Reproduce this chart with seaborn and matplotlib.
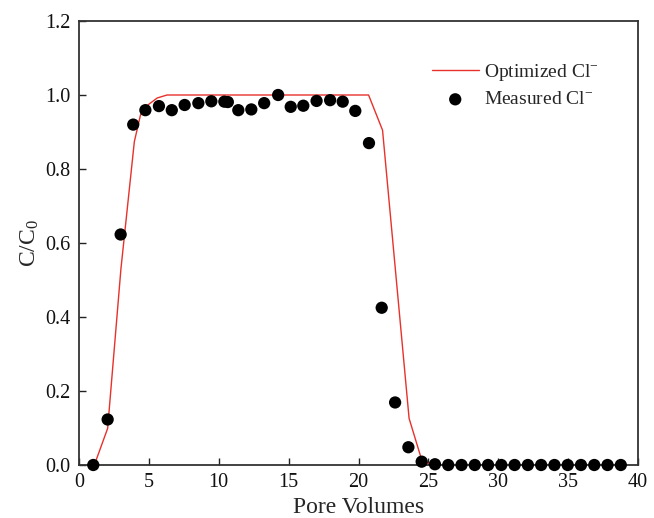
import matplotlib
matplotlib.use("Agg")
import matplotlib.pyplot as plt
import seaborn as sns
import pandas as pd

# Measured chloride breakthrough (relative concentration vs pore volumes)
measured_pv = [1.02, 2.05, 2.98, 3.88, 4.75, 5.72, 6.64, 7.56, 8.54, 9.47,
               10.40, 10.65, 11.40, 12.33, 13.25, 14.25, 15.15, 16.05, 17.00, 17.97,
               18.87, 19.77, 20.75, 21.66, 22.62, 23.57, 24.52, 25.47, 26.42, 27.37,
               28.32, 29.27, 30.22, 31.17, 32.12, 33.07, 34.02, 34.97, 35.92, 36.87,
               37.82, 38.77]
measured_c = [0.000, 0.123, 0.623, 0.920, 0.959, 0.970, 0.959, 0.973, 0.978, 0.983,
              0.982, 0.981, 0.959, 0.961, 0.978, 1.000, 0.968, 0.971, 0.984, 0.986,
              0.982, 0.957, 0.870, 0.425, 0.169, 0.048, 0.009, 0.002, 0.000, 0.000,
              0.000, 0.000, 0.000, 0.000, 0.000, 0.000, 0.000, 0.000, 0.000, 0.000,
              0.000, 0.000]

# Optimized model curve
model_pv = [1.10, 2.05, 3.00, 3.96, 4.40, 4.75, 5.60, 6.30, 20.72, 21.72,
            23.62, 24.52, 25.20, 38.90]
model_c = [0.000, 0.099, 0.530, 0.874, 0.946, 0.968, 0.992, 1.000, 1.000, 0.905,
           0.126, 0.014, 0.000, 0.000]

x_ticks = [0, 5, 10, 15, 20, 25, 30, 35, 40]
y_ticks = [0.0, 0.2, 0.4, 0.6, 0.8, 1.0, 1.2]

measured = pd.DataFrame({"pv": measured_pv, "c": measured_c})
model = pd.DataFrame({"pv": model_pv, "c": model_c})

sns.set_style("ticks")
plt.rcParams["font.family"] = ["Liberation Serif", "DejaVu Serif"]
plt.rcParams["mathtext.fontset"] = "custom"
plt.rcParams["mathtext.rm"] = "Liberation Serif"
plt.rcParams["mathtext.it"] = "Liberation Serif:italic"

fig = plt.figure(figsize=(6.54, 5.18), dpi=100)
ax = fig.add_axes([79 / 654, 1 - 465 / 518, 559 / 654, 444 / 518])

sns.lineplot(data=model, x="pv", y="c", ax=ax, color="#e8312b", linewidth=1.0,
             sort=False, estimator=None, label=r"Optimized Cl$^{-}$")
sns.scatterplot(data=measured, x="pv", y="c", ax=ax, color="black", s=78,
                edgecolor="none", label=r"Measured Cl$^{-}$", clip_on=False, zorder=3)

ax.set_xlim(0, 40)
ax.set_ylim(0, 1.2)
ax.set_xticks(x_ticks)
ax.set_yticks(y_ticks)
ax.set_xticklabels([str(t) for t in x_ticks])
ax.set_yticklabels([f"{t:.1f}" for t in y_ticks])
ax.tick_params(direction="in", length=5, width=1.0, labelsize=14.5, colors="#222222",
               labelcolor="#111111", top=False, right=False)
ax.tick_params(axis="x", pad=6)
ax.tick_params(axis="y", pad=6)
for sp in ax.spines.values():
    sp.set_visible(True)
    sp.set_linewidth(1.3)
    sp.set_color("#333333")

ax.set_xlabel("Pore Volumes", fontsize=17, labelpad=3.5)
ax.set_ylabel(r"C/C$_0$", fontsize=17, labelpad=3)

leg = ax.legend(loc="upper left", bbox_to_anchor=(0.60, 0.947), frameon=False,
                fontsize=14, handlelength=2.4, handletextpad=0.3, labelspacing=0.4)

fig.savefig("out.png", dpi=100)
